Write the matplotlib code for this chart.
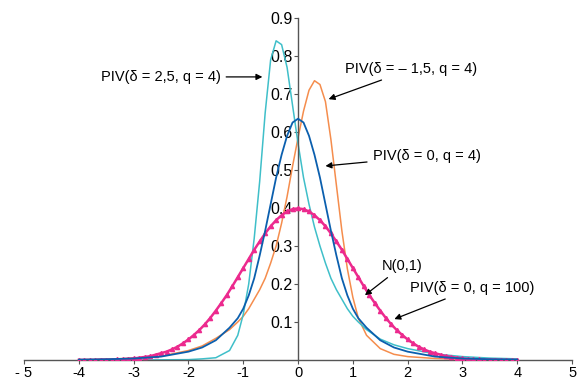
import matplotlib
matplotlib.use("Agg")
import matplotlib.pyplot as plt

# abscisses communes aux courbes PIV
x = [-4, -3.5, -3, -2.5, -2, -1.75, -1.5, -1.25, -1.1, -1.0, -0.9, -0.8, -0.7,
     -0.6, -0.5, -0.4, -0.3, -0.2, -0.1, 0, 0.1, 0.2, 0.3, 0.4, 0.5, 0.6, 0.7,
     0.8, 0.9, 1.0, 1.1, 1.25, 1.5, 1.75, 2, 2.5, 3, 3.5, 4]

piv_d25 = [0.0, 0.0, 0.0, 0.0005, 0.001, 0.003, 0.006, 0.025, 0.065, 0.12, 0.20,
           0.32, 0.47, 0.65, 0.79, 0.84, 0.83, 0.77, 0.67, 0.57, 0.48, 0.41,
           0.35, 0.30, 0.255, 0.215, 0.185, 0.16, 0.135, 0.115, 0.10, 0.08,
           0.055, 0.04, 0.03, 0.016, 0.009, 0.005, 0.003]

piv_dm15 = [0.001, 0.002, 0.005, 0.01, 0.025, 0.037, 0.057, 0.08, 0.10, 0.115,
            0.135, 0.16, 0.185, 0.215, 0.255, 0.30, 0.36, 0.43, 0.51, 0.585,
            0.655, 0.71, 0.735, 0.725, 0.68, 0.58, 0.46, 0.34, 0.24, 0.165,
            0.11, 0.065, 0.03, 0.015, 0.009, 0.004, 0.002, 0.001, 0.0]

piv_d0 = [0.001, 0.002, 0.004, 0.009, 0.022, 0.033, 0.052, 0.085, 0.11, 0.135,
          0.17, 0.215, 0.275, 0.34, 0.41, 0.48, 0.54, 0.59, 0.625, 0.635,
          0.625, 0.59, 0.54, 0.48, 0.41, 0.34, 0.275, 0.215, 0.17, 0.135,
          0.11, 0.085, 0.052, 0.033, 0.022, 0.009, 0.004, 0.002, 0.001]

# N(0,1) et PIV(delta=0, q=100), pas de 0.1
x_n = [round(-4 + 0.1 * k, 1) for k in range(81)]
n01 = [0.000, 0.000, 0.000, 0.000, 0.001, 0.001, 0.001, 0.002, 0.002, 0.003,
       0.004, 0.006, 0.008, 0.010, 0.014, 0.018, 0.022, 0.028, 0.035, 0.044,
       0.054, 0.066, 0.079, 0.094, 0.111, 0.130, 0.150, 0.171, 0.194, 0.218,
       0.242, 0.266, 0.290, 0.312, 0.333, 0.352, 0.368, 0.381, 0.391, 0.397,
       0.399,
       0.397, 0.391, 0.381, 0.368, 0.352, 0.333, 0.312, 0.290, 0.266, 0.242,
       0.218, 0.194, 0.171, 0.150, 0.130, 0.111, 0.094, 0.079, 0.066, 0.054,
       0.044, 0.035, 0.028, 0.022, 0.018, 0.014, 0.010, 0.008, 0.006, 0.004,
       0.003, 0.002, 0.002, 0.001, 0.001, 0.001, 0.000, 0.000, 0.000, 0.000]

xticks = [-5, -4, -3, -2, -1, 0, 1, 2, 3, 4, 5]
xlabels = ["- 5", "-4", "-3", "-2", "-1", "0", "1", "2", "3", "4", "5"]
yticks = [0.1, 0.2, 0.3, 0.4, 0.5, 0.6, 0.7, 0.8, 0.9]

plt.rcParams['font.family'] = ['Liberation Sans', 'DejaVu Sans']

fig = plt.figure(figsize=(5.79, 3.80), dpi=100)
ax = fig.add_axes([0.0415, 0.0526, 0.9465, 0.9])

ax.plot(x_n, n01, color="#ec2a8e", lw=1.8, zorder=3)
ax.plot(x_n, n01, color="#ec2a8e", lw=0, marker="^", ms=3, zorder=3)
ax.plot(x, piv_d0, color="#0b5fae", lw=1.3, zorder=4)
ax.plot(x, piv_dm15, color="#f58d4d", lw=1.1, zorder=2)
ax.plot(x, piv_d25, color="#3fbfc9", lw=1.1, zorder=2)

ax.set_xlim(-5, 5)
ax.set_ylim(0, 0.9)
ax.spines['left'].set_position(('data', 0))
ax.spines['top'].set_visible(False)
ax.spines['right'].set_visible(False)
for s in ['left', 'bottom']:
    ax.spines[s].set_color("#555555")
    ax.spines[s].set_linewidth(1.0)
ax.set_xticks(xticks)
ax.set_xticklabels(xlabels)
ax.set_yticks(yticks)
ax.set_yticklabels([str(v) for v in yticks])
ax.tick_params(axis='x', direction='out', length=3, labelsize=10.5, color="#555555", pad=1)
ax.tick_params(axis='y', direction='out', length=3, labelsize=11.5, color="#555555", pad=1)

fl = dict(arrowstyle="-|>", color="black", lw=0.9, mutation_scale=9)
fs = 10.5
ax.annotate("PIV(δ = 2,5, q = 4)", xy=(-0.6, 0.745), xytext=(-3.6, 0.745),
            fontsize=fs, va="center", ha="left", arrowprops=fl)
ax.annotate("PIV(δ = – 1,5, q = 4)", xy=(0.51, 0.684), xytext=(0.86, 0.765),
            fontsize=fs, va="center", ha="left", arrowprops=fl)
ax.annotate("PIV(δ = 0, q = 4)", xy=(0.45, 0.51), xytext=(1.36, 0.536),
            fontsize=fs, va="center", ha="left", arrowprops=fl)
ax.annotate("N(0,1)", xy=(1.18, 0.166), xytext=(1.53, 0.247),
            fontsize=fs, va="center", ha="left", arrowprops=fl)
ax.annotate("PIV(δ = 0, q = 100)", xy=(1.71, 0.105), xytext=(2.05, 0.189),
            fontsize=fs, va="center", ha="left", arrowprops=fl)

fig.savefig("out.png", dpi=100)
